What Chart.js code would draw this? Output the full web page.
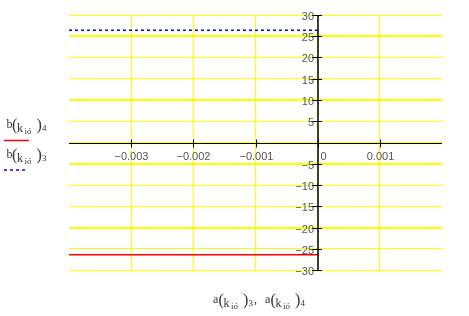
<!DOCTYPE html>
<html><head><meta charset="utf-8">
<script src="https://cdn.jsdelivr.net/npm/chart.js@4/dist/chart.umd.min.js"></script>
<style>html,body{margin:0;padding:0;background:#fff;overflow:hidden}#wrap{position:relative;width:469px;height:316px}</style>
</head><body><div id="wrap"><canvas id="c" width="469" height="316"></canvas></div>
<script>
// ---- data ----
const xValues = [-0.004, -0.003, -0.002, -0.001, 0];
const series3 = [26.4, 26.4, 26.4, 26.4, 26.4];      // b(k)_3  blue dotted
const series4 = [-26.4, -26.4, -26.4, -26.4, -26.4]; // b(k)_4  red solid
const xTicks = [-0.003, -0.002, -0.001, 0, 0.001];
const xTickLabels = ['\u22120.003', '\u22120.002', '\u22120.001', '0', '0.001'];
const yTicks = [30, 25, 20, 15, 10, 5, 0, -5, -10, -15, -20, -25, -30];
const yTickLabels = ['30','25','20','15','10','5','','\u22125','\u221210','\u221215','\u221220','\u221225','\u221230'];
const highlightY = [25, 10, -5, -20];
const xMin = -0.004, xMax = 0.002, yMin = -30, yMax = 30;

function drawTerm(ctx, x, baseline, fn, sub, color) {
  const parts = [
    {t: fn, size: 12, dx: 0, dy: 0},
    {t: '(', size: 16, dx: 5.5, dy: 2},
    {t: 'k', size: 12, dx: 10.5, dy: 4},
    {t: 'i\u00f3', size: 9, dx: 18, dy: 6},
    {t: ')', size: 16, dx: 30, dy: 2},
    {t: sub, size: 9, dx: 35.5, dy: 3}
  ];
  ctx.fillStyle = color;
  ctx.textAlign = 'left';
  ctx.textBaseline = 'alphabetic';
  for (const p of parts) {
    ctx.font = p.size + 'px "Liberation Serif"';
    ctx.fillText(p.t, x + p.dx, baseline + p.dy);
  }
  return x + 40;
}

const overlay = {
  id: 'overlay',
  afterDraw(chart) {
    const ctx = chart.ctx;
    const xs = chart.scales.x, ys = chart.scales.y;
    const ax = Math.round(xs.getPixelForValue(0));
    const ay = Math.round(ys.getPixelForValue(0)) + 0.5;
    ctx.save();
    ctx.strokeStyle = '#000';
    ctx.lineWidth = 1;
    ctx.beginPath(); ctx.moveTo(xs.left, ay); ctx.lineTo(xs.right, ay); ctx.stroke();
    ctx.lineWidth = 1.5;
    ctx.beginPath(); ctx.moveTo(ax, ys.top); ctx.lineTo(ax, ys.bottom + 1); ctx.stroke();
    ctx.lineWidth = 1;
    ctx.font = '11px "Liberation Sans"';
    ctx.fillStyle = '#555';
    ctx.textAlign = 'right';
    ctx.textBaseline = 'middle';
    yTicks.forEach((v, i) => {
      const py = Math.round(ys.getPixelForValue(v)) + 0.5;
      ctx.beginPath(); ctx.moveTo(ax - 6, py); ctx.lineTo(ax + 4, py); ctx.stroke();
      if (yTickLabels[i]) ctx.fillText(yTickLabels[i], ax - 4, py + 1);
    });
    xTicks.forEach((v, i) => {
      const px = Math.round(xs.getPixelForValue(v)) + 0.5;
      ctx.beginPath(); ctx.moveTo(px, ay - 4); ctx.lineTo(px, ay + 4); ctx.stroke();
      if (v === 0) { ctx.textAlign = 'left'; ctx.fillText(xTickLabels[i], px + 2, ay + 13); }
      else { ctx.textAlign = 'center'; ctx.fillText(xTickLabels[i], px, ay + 13); }
    });
    // legend
    drawTerm(ctx, 6.5, 128, 'b', '4', '#333');
    ctx.strokeStyle = '#ff0000'; ctx.lineWidth = 1.5; ctx.setLineDash([]);
    ctx.beginPath(); ctx.moveTo(4, 140.5); ctx.lineTo(29, 140.5); ctx.stroke();
    drawTerm(ctx, 6.5, 158, 'b', '3', '#333');
    ctx.strokeStyle = '#0000ff'; ctx.lineWidth = 1.5; ctx.setLineDash([3, 3]);
    ctx.beginPath(); ctx.moveTo(4, 170); ctx.lineTo(26, 170); ctx.stroke();
    ctx.setLineDash([]);
    // x title
    let cx = drawTerm(ctx, 213, 303, 'a', '3', '#333');
    ctx.font = '12px "Liberation Serif"';
    ctx.fillText(',', cx + 1, 303);
    drawTerm(ctx, cx + 12, 303, 'a', '4', '#333');
    ctx.restore();
  }
};

new Chart(document.getElementById('c'), {
  type: 'scatter',
  data: {
    datasets: [
      {label: 'b3', data: xValues.map((x, i) => ({x, y: series3[i]})), showLine: true,
       borderColor: '#0000ff', borderWidth: 1.5, borderDash: [3, 3], pointRadius: 0, fill: false},
      {label: 'b4', data: xValues.map((x, i) => ({x, y: series4[i]})), showLine: true,
       borderColor: '#ff0000', borderWidth: 1.5, pointRadius: 0, fill: false}
    ]
  },
  options: {
    responsive: false, devicePixelRatio: 1, animation: false,
    layout: {padding: {left: 69, right: 27, top: 15, bottom: 46}},
    plugins: {legend: {display: false}, tooltip: {enabled: false}},
    scales: {
      x: {type: 'linear', min: xMin, max: xMax,
          afterBuildTicks: s => { s.ticks = xTicks.map(v => ({value: v})); },
          ticks: {display: false}, border: {display: false},
          grid: {color: '#ffff00', lineWidth: 1, drawTicks: false}},
      y: {type: 'linear', min: yMin, max: yMax,
          afterBuildTicks: s => { s.ticks = yTicks.map(v => ({value: v})); },
          ticks: {display: false}, border: {display: false},
          grid: {color: '#ffff00', drawTicks: false,
                 lineWidth: yTicks.map(v => highlightY.includes(v) ? 2 : 1)}}
    }
  },
  plugins: [overlay]
});
</script></body></html>
